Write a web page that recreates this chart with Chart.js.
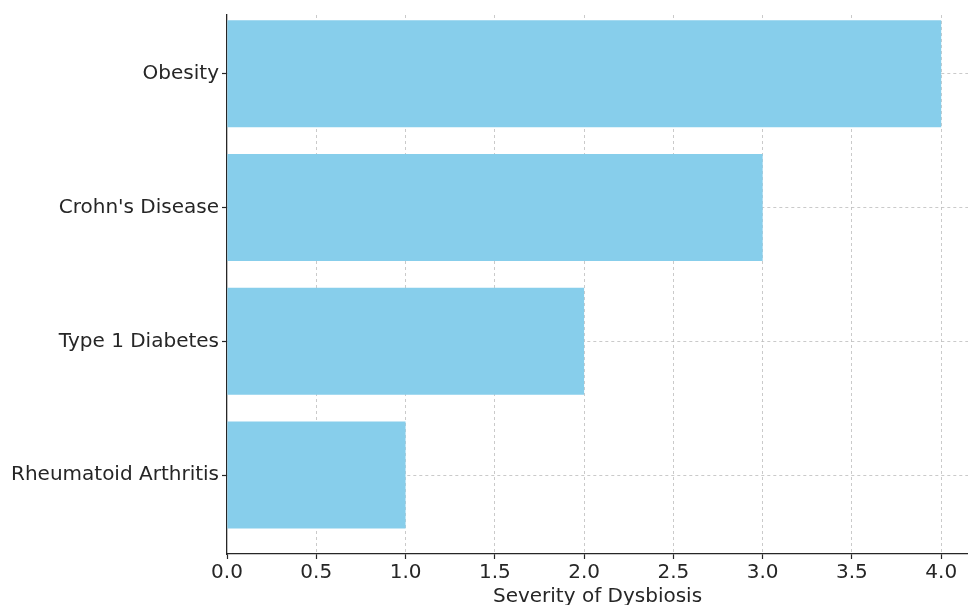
<!DOCTYPE html>
<html>
<head>
<meta charset="utf-8">
<script src="https://cdn.jsdelivr.net/npm/chart.js@4"></script>
<style>
  html, body { margin: 0; padding: 0; background: #fff; overflow: hidden; }
  #wrap { width: 968px; height: 605px; }
</style>
</head>
<body>
<div id="wrap"><canvas id="chartContainer"></canvas></div>
<script>
"use strict";

// 1: data
const diseases = ['Rheumatoid Arthritis', 'Type 1 Diabetes', "Crohn's Disease", 'Obesity'];
const severity = [1, 2, 3, 4];
const xTickValues = [0, 0.5, 1, 1.5, 2, 2.5, 3, 3.5, 4];
const xTitle = 'Severity of Dysbiosis';

// 2: prepare points (bar index on a linear y scale)
function preparePoints() {
  let points = [];
  for (let i = 0; i < diseases.length; i++) {
    points.push({ x: severity[i], y: i });
  }
  return points;
}

// 3: create the chart
const textColor = '#262626';
const gridColor = '#bdbdbd';
const font = { family: 'DejaVu Sans', size: 20 };

new Chart(document.getElementById('chartContainer'), {
  type: 'bar',
  data: {
    datasets: [{
      data: preparePoints(),
      backgroundColor: '#87CEEB',
      borderWidth: 0,
      barPercentage: 0.8,
      categoryPercentage: 1
    }]
  },
  options: {
    indexAxis: 'y',
    responsive: true,
    maintainAspectRatio: false,
    animation: false,
    layout: { padding: { top: 12, right: 0, left: 0, bottom: 0 } },
    plugins: { legend: { display: false }, tooltip: { enabled: false } },
    scales: {
      x: {
        type: 'linear',
        min: 0,
        max: 4.15,
        z: 1,
        afterBuildTicks: (scale) => { scale.ticks = xTickValues.map(v => ({ value: v })); },
        afterFit: (scale) => { scale.height = 51; },
        ticks: {
          color: textColor,
          font: font,
          padding: 2,
          maxRotation: 0,
          autoSkip: false,
          callback: (v) => Number(v).toFixed(1)
        },
        grid: {
          // no grey line over the left spine
          color: (ctx) => (ctx.tick && ctx.tick.value === 0) ? 'rgba(0,0,0,0)' : gridColor,
          lineWidth: 0.8,
          tickLength: 5,
          tickColor: textColor,
          tickWidth: 1.2,
          tickBorderDash: []
        },
        border: { color: textColor, width: 1.3, dash: [3, 3] },
        title: {
          display: true,
          text: xTitle,
          color: textColor,
          font: font,
          padding: { top: 4, bottom: -4 }
        }
      },
      y: {
        type: 'linear',
        min: -0.59,
        max: 3.44,
        offset: false,
        z: 1,
        afterBuildTicks: (scale) => { scale.ticks = diseases.map((d, i) => ({ value: i })); },
        afterFit: (scale) => { scale.width = 227; },
        ticks: {
          color: textColor,
          font: font,
          padding: 3,
          autoSkip: false,
          callback: (v) => diseases[v]
        },
        grid: {
          offset: false,
          color: gridColor,
          lineWidth: 0.8,
          tickLength: 5,
          tickColor: textColor,
          tickWidth: 1.2,
          tickBorderDash: []
        },
        border: { color: textColor, width: 1.3, dash: [3, 3] }
      }
    }
  }
});
</script>
</body>
</html>
